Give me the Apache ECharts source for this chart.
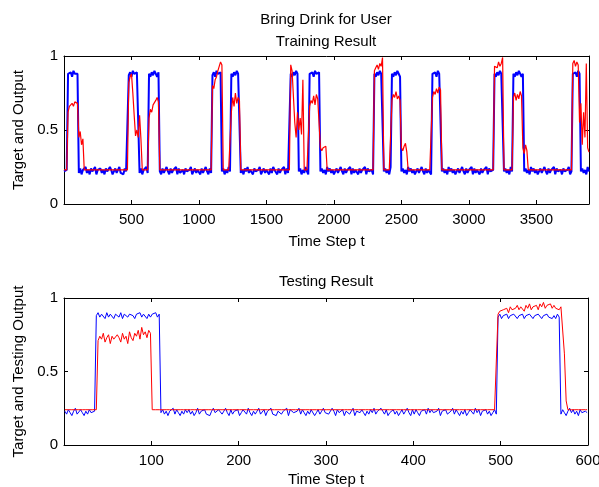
<!DOCTYPE html>
<html>
<head>
<meta charset="utf-8">
<title>Bring Drink for User</title>
<script src="https://cdn.jsdelivr.net/npm/echarts@6/dist/echarts.min.js"></script>
<style>
    html, body { margin: 0; padding: 0; background: #fff; }
    #chart { width: 599px; height: 487px; }
</style>
</head>
<body>
<div id="chart"></div>
<script>
// training run: one sample read every 10 time steps, starting at t = 0
var trainStart = 0;
var trainStep = 10;
var trainTarget = [
    0.22,0.21,0.23,0.88,0.87,0.89,0.86,0.90,0.88,0.87,
    0.88,0.21,0.24,0.20,0.23,0.22,0.25,0.21,0.23,0.20,
    0.24,0.22,0.21,0.25,0.20,0.23,0.22,0.24,0.21,0.23,
    0.20,0.24,0.22,0.21,0.25,0.23,0.20,0.22,0.24,0.21,
    0.23,0.25,0.21,0.22,0.20,0.24,0.22,0.21,0.87,0.89,
    0.86,0.90,0.88,0.87,0.89,0.88,0.21,0.24,0.20,0.23,
    0.22,0.25,0.21,0.88,0.86,0.89,0.87,0.90,0.88,0.86,
    0.89,0.22,0.20,0.24,0.21,0.23,0.25,0.22,0.20,0.24,
    0.21,0.23,0.22,0.25,0.20,0.24,0.21,0.22,0.23,0.20,
    0.24,0.22,0.21,0.23,0.25,0.20,0.22,0.24,0.21,0.23,
    0.22,0.20,0.24,0.21,0.23,0.25,0.22,0.20,0.24,0.21,
    0.87,0.89,0.86,0.90,0.88,0.87,0.89,0.22,0.24,0.20,
    0.23,0.21,0.25,0.22,0.88,0.86,0.89,0.87,0.90,0.88,
    0.87,0.21,0.23,0.20,0.24,0.22,0.25,0.21,0.23,0.22,
    0.20,0.24,0.22,0.21,0.23,0.25,0.20,0.22,0.24,0.21,
    0.23,0.22,0.20,0.24,0.21,0.25,0.23,0.22,0.20,0.24,
    0.21,0.23,0.22,0.25,0.20,0.24,0.21,0.22,0.88,0.86,
    0.89,0.87,0.90,0.88,0.22,0.24,0.20,0.23,0.21,0.25,
    0.22,0.20,0.88,0.87,0.89,0.86,0.90,0.88,0.87,0.89,
    0.22,0.24,0.21,0.23,0.20,0.25,0.22,0.24,0.21,0.23,
    0.20,0.22,0.24,0.21,0.23,0.25,0.22,0.20,0.24,0.21,
    0.23,0.22,0.25,0.20,0.24,0.21,0.23,0.22,0.20,0.24,
    0.21,0.23,0.22,0.25,0.20,0.24,0.22,0.21,0.23,0.20,
    0.88,0.86,0.89,0.87,0.90,0.88,0.87,0.22,0.24,0.21,
    0.23,0.20,0.25,0.88,0.86,0.89,0.87,0.90,0.88,0.86,
    0.22,0.24,0.21,0.23,0.20,0.25,0.22,0.24,0.21,0.23,
    0.20,0.22,0.24,0.21,0.23,0.25,0.22,0.20,0.24,0.21,
    0.23,0.22,0.20,0.88,0.87,0.89,0.86,0.90,0.88,0.87,
    0.22,0.24,0.21,0.23,0.20,0.25,0.22,0.24,0.21,0.23,
    0.20,0.22,0.24,0.21,0.23,0.25,0.22,0.20,0.24,0.21,
    0.23,0.22,0.25,0.20,0.24,0.21,0.23,0.22,0.20,0.24,
    0.21,0.23,0.22,0.25,0.20,0.24,0.22,0.21,0.23,0.88,
    0.86,0.89,0.87,0.90,0.88,0.87,0.22,0.24,0.21,0.23,
    0.20,0.25,0.22,0.88,0.86,0.89,0.87,0.90,0.88,0.86,
    0.88,0.22,0.24,0.21,0.23,0.20,0.25,0.22,0.24,0.21,
    0.23,0.20,0.22,0.24,0.21,0.23,0.25,0.22,0.20,0.24,
    0.21,0.23,0.22,0.25,0.20,0.24,0.22,0.21,0.23,0.20,
    0.24,0.22,0.21,0.23,0.25,0.20,0.22,0.88,0.87,0.89,
    0.86,0.90,0.88,0.22,0.24,0.21,0.23,0.20,0.25,0.22
];
var trainOutput = [
    0.23,0.23,0.23,0.62,0.66,0.65,0.68,0.66,0.69,0.70,
    0.68,0.45,0.49,0.40,0.44,0.23,0.23,0.23,0.23,0.23,
    0.23,0.23,0.23,0.23,0.23,0.23,0.23,0.23,0.23,0.23,
    0.23,0.23,0.23,0.23,0.23,0.23,0.23,0.23,0.23,0.23,
    0.23,0.23,0.23,0.23,0.23,0.23,0.23,0.23,0.82,0.86,
    0.88,0.75,0.60,0.46,0.50,0.45,0.60,0.44,0.23,0.23,
    0.23,0.23,0.23,0.58,0.64,0.62,0.67,0.66,0.70,0.72,
    0.69,0.23,0.23,0.23,0.23,0.23,0.23,0.23,0.23,0.23,
    0.23,0.23,0.23,0.23,0.23,0.23,0.23,0.23,0.23,0.23,
    0.23,0.23,0.23,0.23,0.23,0.23,0.23,0.23,0.23,0.23,
    0.23,0.23,0.23,0.23,0.23,0.23,0.23,0.23,0.23,0.23,
    0.80,0.78,0.84,0.86,0.90,0.93,0.96,0.94,0.23,0.23,
    0.23,0.23,0.23,0.23,0.62,0.72,0.66,0.75,0.68,0.72,
    0.70,0.23,0.23,0.23,0.23,0.23,0.23,0.23,0.23,0.23,
    0.23,0.23,0.23,0.23,0.23,0.23,0.23,0.23,0.23,0.23,
    0.23,0.23,0.23,0.23,0.23,0.23,0.23,0.23,0.23,0.23,
    0.23,0.23,0.23,0.23,0.23,0.23,0.23,0.23,0.94,0.90,
    0.90,0.55,0.45,0.62,0.50,0.58,0.47,0.84,0.23,0.23,
    0.23,0.23,0.66,0.70,0.68,0.73,0.67,0.74,0.71,0.72,
    0.38,0.36,0.38,0.37,0.39,0.23,0.23,0.23,0.23,0.23,
    0.23,0.23,0.23,0.23,0.23,0.23,0.23,0.23,0.23,0.23,
    0.23,0.23,0.23,0.23,0.23,0.23,0.23,0.23,0.23,0.23,
    0.23,0.23,0.23,0.23,0.23,0.23,0.23,0.23,0.23,0.23,
    0.90,0.92,0.94,0.91,0.95,0.93,0.99,0.23,0.23,0.23,
    0.23,0.23,0.23,0.70,0.74,0.72,0.76,0.71,0.73,0.70,
    0.38,0.36,0.39,0.41,0.35,0.23,0.23,0.23,0.23,0.23,
    0.23,0.23,0.23,0.23,0.23,0.23,0.23,0.23,0.23,0.23,
    0.23,0.23,0.23,0.72,0.76,0.74,0.78,0.75,0.79,0.77,
    0.23,0.23,0.23,0.23,0.23,0.23,0.23,0.23,0.23,0.23,
    0.23,0.23,0.23,0.23,0.23,0.23,0.23,0.23,0.23,0.23,
    0.23,0.23,0.23,0.23,0.23,0.23,0.23,0.23,0.23,0.23,
    0.23,0.23,0.23,0.23,0.23,0.23,0.23,0.23,0.23,0.93,
    0.94,0.92,0.96,0.93,0.95,0.99,0.23,0.23,0.23,0.23,
    0.23,0.23,0.23,0.72,0.75,0.70,0.74,0.71,0.76,0.73,
    0.38,0.34,0.40,0.36,0.23,0.23,0.23,0.23,0.23,0.23,
    0.23,0.23,0.23,0.23,0.23,0.23,0.23,0.23,0.23,0.23,
    0.23,0.23,0.23,0.23,0.23,0.23,0.23,0.23,0.23,0.23,
    0.23,0.23,0.23,0.23,0.23,0.23,0.23,0.95,0.97,0.93,
    0.96,0.94,0.55,0.68,0.40,0.62,0.45,0.95,0.38,0.35
];

// testing run: one sample read every 2 time steps, starting at t = 1
var testStart = 1;
var testStep = 2;
var testTarget = [
    0.23,0.21,0.24,0.22,0.20,0.23,0.25,0.21,0.22,0.24,
    0.22,0.20,0.23,0.21,0.24,0.22,0.21,0.23,0.88,0.90,
    0.87,0.89,0.88,0.86,0.90,0.87,0.89,0.88,0.86,0.89,
    0.88,0.87,0.90,0.86,0.89,0.88,0.87,0.89,0.90,0.88,
    0.86,0.89,0.88,0.90,0.87,0.89,0.88,0.86,0.89,0.87,
    0.89,0.88,0.90,0.87,0.89,0.22,0.24,0.21,0.23,0.20,
    0.23,0.22,0.25,0.21,0.24,0.22,0.20,0.23,0.21,0.24,
    0.22,0.24,0.21,0.23,0.20,0.22,0.25,0.21,0.23,0.22,
    0.24,0.21,0.22,0.20,0.23,0.25,0.22,0.21,0.24,0.23,
    0.21,0.23,0.25,0.22,0.20,0.24,0.21,0.23,0.22,0.24,
    0.20,0.22,0.24,0.23,0.21,0.25,0.22,0.20,0.23,0.21,
    0.23,0.25,0.21,0.22,0.24,0.20,0.23,0.22,0.25,0.21,
    0.22,0.20,0.23,0.24,0.21,0.23,0.22,0.25,0.20,0.24,
    0.24,0.22,0.21,0.23,0.25,0.21,0.24,0.22,0.20,0.23,
    0.21,0.24,0.23,0.20,0.22,0.24,0.21,0.23,0.25,0.22,
    0.23,0.21,0.22,0.25,0.23,0.20,0.24,0.22,0.21,0.24,
    0.20,0.23,0.24,0.21,0.22,0.25,0.20,0.23,0.24,0.22,
    0.24,0.22,0.20,0.23,0.21,0.24,0.22,0.25,0.21,0.23,
    0.22,0.25,0.23,0.21,0.24,0.20,0.22,0.23,0.24,0.21,
    0.23,0.20,0.22,0.24,0.21,0.23,0.25,0.22,0.20,0.24,
    0.21,0.24,0.22,0.20,0.23,0.22,0.24,0.21,0.25,0.22,
    0.24,0.22,0.21,0.23,0.25,0.20,0.23,0.22,0.24,0.21,
    0.22,0.23,0.25,0.21,0.24,0.22,0.20,0.23,0.21,0.24,
    0.20,0.22,0.24,0.23,0.21,0.25,0.22,0.24,0.20,0.23,
    0.22,0.24,0.21,0.23,0.20,0.22,0.24,0.21,0.87,0.89,
    0.86,0.88,0.87,0.89,0.86,0.88,0.87,0.89,0.88,0.86,
    0.88,0.87,0.89,0.86,0.88,0.87,0.89,0.88,0.86,0.88,
    0.87,0.89,0.88,0.86,0.88,0.87,0.89,0.87,0.88,0.86,
    0.88,0.86,0.89,0.87,0.21,0.24,0.22,0.20,0.23,0.25,
    0.22,0.24,0.21,0.23,0.20,0.24,0.22,0.21,0.23,0.22
];
var testOutput = [
    0.24,0.24,0.24,0.24,0.24,0.24,0.24,0.24,0.24,0.24,
    0.24,0.24,0.24,0.24,0.24,0.24,0.24,0.24,0.24,0.71,
    0.74,0.72,0.76,0.70,0.73,0.75,0.69,0.74,0.72,0.71,
    0.75,0.73,0.70,0.76,0.72,0.74,0.69,0.77,0.73,0.71,
    0.76,0.74,0.78,0.72,0.80,0.75,0.77,0.73,0.78,0.76,
    0.24,0.24,0.24,0.24,0.24,0.24,0.24,0.24,0.24,0.24,
    0.24,0.24,0.24,0.24,0.24,0.24,0.24,0.24,0.24,0.24,
    0.24,0.24,0.24,0.24,0.24,0.24,0.24,0.24,0.24,0.24,
    0.24,0.24,0.24,0.24,0.24,0.24,0.24,0.24,0.24,0.24,
    0.24,0.24,0.24,0.24,0.24,0.24,0.24,0.24,0.24,0.24,
    0.24,0.24,0.24,0.24,0.24,0.24,0.24,0.24,0.24,0.24,
    0.24,0.24,0.24,0.24,0.24,0.24,0.24,0.24,0.24,0.24,
    0.24,0.24,0.24,0.24,0.24,0.24,0.24,0.24,0.24,0.24,
    0.24,0.24,0.24,0.24,0.24,0.24,0.24,0.24,0.24,0.24,
    0.24,0.24,0.24,0.24,0.24,0.24,0.24,0.24,0.24,0.24,
    0.24,0.24,0.24,0.24,0.24,0.24,0.24,0.24,0.24,0.24,
    0.24,0.24,0.24,0.24,0.24,0.24,0.24,0.24,0.24,0.24,
    0.24,0.24,0.24,0.24,0.24,0.24,0.24,0.24,0.24,0.24,
    0.24,0.24,0.24,0.24,0.24,0.24,0.24,0.24,0.24,0.24,
    0.24,0.24,0.24,0.24,0.24,0.24,0.24,0.24,0.24,0.24,
    0.24,0.24,0.24,0.24,0.24,0.24,0.24,0.24,0.24,0.24,
    0.24,0.24,0.24,0.24,0.24,0.24,0.24,0.24,0.24,0.24,
    0.24,0.24,0.24,0.24,0.24,0.24,0.24,0.24,0.24,0.24,
    0.24,0.24,0.24,0.24,0.24,0.24,0.24,0.24,0.24,0.24,
    0.24,0.24,0.24,0.24,0.24,0.24,0.24,0.24,0.89,0.91,
    0.90,0.92,0.91,0.93,0.90,0.94,0.92,0.91,0.93,0.95,
    0.92,0.94,0.93,0.91,0.95,0.93,0.96,0.92,0.94,0.93,
    0.95,0.92,0.96,0.94,0.97,0.93,0.95,0.94,0.96,0.93,
    0.95,0.93,0.94,0.92,0.94,0.93,0.62,0.30,0.24,0.24,
    0.24,0.24,0.24,0.24,0.24,0.24,0.24,0.24,0.24,0.24
];

var yTicks = [0, 0.5, 1];

var FONT = 'Liberation Sans';
var chart = echarts.init(document.getElementById('chart'));

function toPairs(values, start, step) {
    return values.map(function (v, i) {
        return [start + i * step, v];
    });
}

// plain numbers, no thousands separator
function plain(v) {
    return String(v);
}

var boxLine = { show: true, onZero: false, lineStyle: { color: '#000', width: 1 } };
var tickIn = { show: true, inside: true, length: 4, lineStyle: { color: '#000', width: 1 } };

// bottom/left axes carry labels, top/right ones only mirror the inward ticks (matlab box)
function xAxisMain(grid, max, interval, gap, showMax) {
    return {
        type: 'value', gridIndex: grid, position: 'bottom',
        min: 0, max: max, interval: interval,
        name: 'Time Step t', nameLocation: 'middle', nameGap: gap,
        nameTextStyle: { fontFamily: FONT, fontSize: 15, color: '#000' },
        axisLine: boxLine,
        axisTick: tickIn,
        axisLabel: { showMinLabel: false, showMaxLabel: showMax, margin: 8, formatter: plain,
            fontFamily: FONT, fontSize: 15, color: '#000' },
        splitLine: { show: false }
    };
}
function xAxisMirror(grid, max, interval) {
    return {
        type: 'value', gridIndex: grid, position: 'top',
        min: 0, max: max, interval: interval,
        axisLine: boxLine,
        axisTick: tickIn,
        axisLabel: { show: false },
        splitLine: { show: false }
    };
}
function yAxisMain(grid, name) {
    return {
        type: 'value', gridIndex: grid, position: 'left',
        min: yTicks[0], max: yTicks[yTicks.length - 1], interval: yTicks[1] - yTicks[0],
        name: name, nameLocation: 'middle', nameGap: 36,
        nameTextStyle: { fontFamily: FONT, fontSize: 15, color: '#000' },
        axisLine: boxLine,
        axisTick: tickIn,
        axisLabel: { margin: 6, formatter: plain, fontFamily: FONT, fontSize: 15, color: '#000' },
        splitLine: { show: false }
    };
}
function yAxisMirror(grid) {
    return {
        type: 'value', gridIndex: grid, position: 'right',
        min: yTicks[0], max: yTicks[yTicks.length - 1], interval: yTicks[1] - yTicks[0],
        axisLine: boxLine,
        axisTick: tickIn,
        axisLabel: { show: false },
        splitLine: { show: false }
    };
}
function lineSeries(name, xi, yi, data, color, width) {
    return {
        name: name, type: 'line', xAxisIndex: xi, yAxisIndex: yi,
        data: data, symbol: 'none', silent: true, sampling: null,
        lineStyle: { color: color, width: width }
    };
}

var titleStyle = { fontFamily: FONT, fontSize: 15, fontWeight: 'normal', color: '#000' };

var option = {
    animation: false,
    backgroundColor: '#fff',
    title: [
        { text: 'Bring Drink for User', left: 326, top: 12, textAlign: 'center', padding: 0, textStyle: titleStyle },
        { text: 'Training Result', left: 326, top: 34, textAlign: 'center', padding: 0, textStyle: titleStyle },
        { text: 'Testing Result', left: 326, top: 274, textAlign: 'center', padding: 0, textStyle: titleStyle }
    ],
    grid: [
        { left: 64, top: 56, width: 525, height: 148, outerBoundsMode: 'none' },
        { left: 64, top: 298, width: 524, height: 147, outerBoundsMode: 'none' }
    ],
    xAxis: [
        xAxisMain(0, 3890, 500, 30, false),
        xAxisMirror(0, 3890, 500),
        xAxisMain(1, 600, 100, 27, true),
        xAxisMirror(1, 600, 100)
    ],
    yAxis: [
        yAxisMain(0, 'Target and Output'),
        yAxisMirror(0),
        yAxisMain(1, 'Target and Testing Output'),
        yAxisMirror(1)
    ],
    series: [
        lineSeries('Target', 0, 0, toPairs(trainTarget, trainStart, trainStep), '#0000ff', 2),
        lineSeries('Output', 0, 0, toPairs(trainOutput, trainStart, trainStep), '#ff0000', 1.2),
        lineSeries('Target', 2, 2, toPairs(testTarget, testStart, testStep), '#0000ff', 1),
        lineSeries('Testing Output', 2, 2, toPairs(testOutput, testStart, testStep), '#ff0000', 1)
    ]
};

chart.setOption(option);

window.addEventListener('resize', function () {
    chart.resize();
});
</script>
</body>
</html>
